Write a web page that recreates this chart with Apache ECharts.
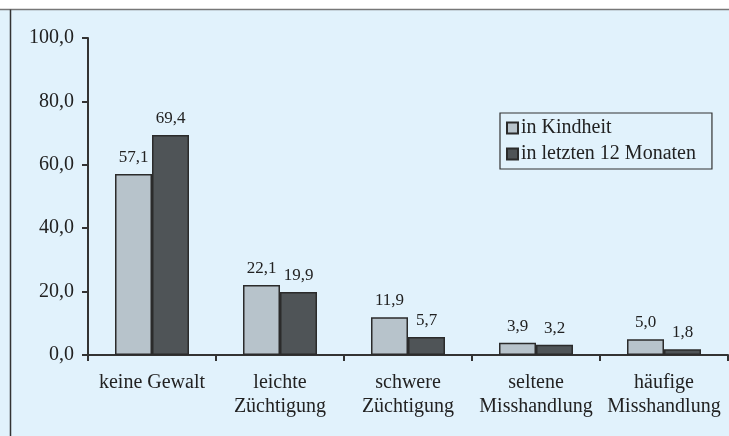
<!DOCTYPE html>
<html>
<head>
<meta charset="utf-8">
<script src="https://cdn.jsdelivr.net/npm/echarts@6/dist/echarts.min.js"></script>
<style>
  html, body { margin: 0; padding: 0; }
  #main { width: 729px; height: 436px; }
</style>
</head>
<body>
<div id="main"></div>
<script>
// Kategorien und Werte
const categories = ["keine Gewalt", "leichte\nZüchtigung", "schwere\nZüchtigung", "seltene\nMisshandlung", "häufige\nMisshandlung"];
const kindheit = [57.1, 22.1, 11.9, 3.9, 5.0];
const letzte12 = [69.4, 19.9, 5.7, 3.2, 1.8];
const seriesNames = ["in Kindheit", "in letzten 12 Monaten"];

const fmt = v => v.toFixed(1).replace(".", ",");
const font = "Liberation Serif";

let myChart = echarts.init(document.getElementById("main"));

let option = {
  backgroundColor: "#e1f2fc",
  animation: false,
  textStyle: { fontFamily: font },
  graphic: [
    { type: "rect", shape: { x: 0, y: 0, width: 729, height: 9 }, style: { fill: "#ffffff" } },
    { type: "line", shape: { x1: 0, y1: 9.5, x2: 729, y2: 9.5 }, style: { stroke: "#777", lineWidth: 1.5 } },
    { type: "line", shape: { x1: 10.5, y1: 9.5, x2: 10.5, y2: 436 }, style: { stroke: "#333", lineWidth: 1.5 } }
  ],
  grid: { left: 88, right: 1, top: 38, bottom: 81 },
  legend: {
    orient: "vertical",
    left: 500,
    top: 113,
    padding: [5, 16, 5, 6],
    itemGap: 6,
    itemWidth: 11,
    itemHeight: 11,
    borderColor: "#333",
    borderWidth: 1.2,
    borderRadius: 0,
    icon: "rect",
    textStyle: { fontFamily: font, fontSize: 20, color: "#222", padding: [0, 0, 0, -2] },
    data: seriesNames
  },
  xAxis: {
    type: "category",
    data: categories,
    axisLine: { lineStyle: { color: "#333", width: 2 } },
    axisTick: { show: true, length: 6, lineStyle: { color: "#333", width: 2 } },
    axisLabel: { interval: 0, fontFamily: font, fontSize: 20, color: "#222", margin: 16, lineHeight: 24 }
  },
  yAxis: {
    type: "value",
    min: 0,
    max: 100,
    interval: 20,
    splitLine: { show: false },
    axisLine: { show: true, lineStyle: { color: "#333", width: 2 } },
    axisTick: { show: true, length: 6, lineStyle: { color: "#333", width: 2 } },
    axisLabel: { fontFamily: font, fontSize: 20, color: "#222", margin: 14, formatter: v => fmt(v) }
  },
  series: [
    {
      name: seriesNames[0],
      type: "bar",
      data: kindheit,
      barWidth: 37,
      barGap: "0%",
      itemStyle: { color: "#b7c3cb", borderColor: "#2b2b2b", borderWidth: 1.5 },
      label: { show: true, position: "top", distance: 8, fontFamily: font, fontSize: 17, color: "#222", formatter: p => fmt(p.value) }
    },
    {
      name: seriesNames[1],
      type: "bar",
      data: letzte12,
      barWidth: 37,
      itemStyle: { color: "#4f5457", borderColor: "#2b2b2b", borderWidth: 1.5 },
      label: { show: true, position: "top", distance: 8, fontFamily: font, fontSize: 17, color: "#222", formatter: p => fmt(p.value) }
    }
  ]
};

myChart.setOption(option);
</script>
</body>
</html>
